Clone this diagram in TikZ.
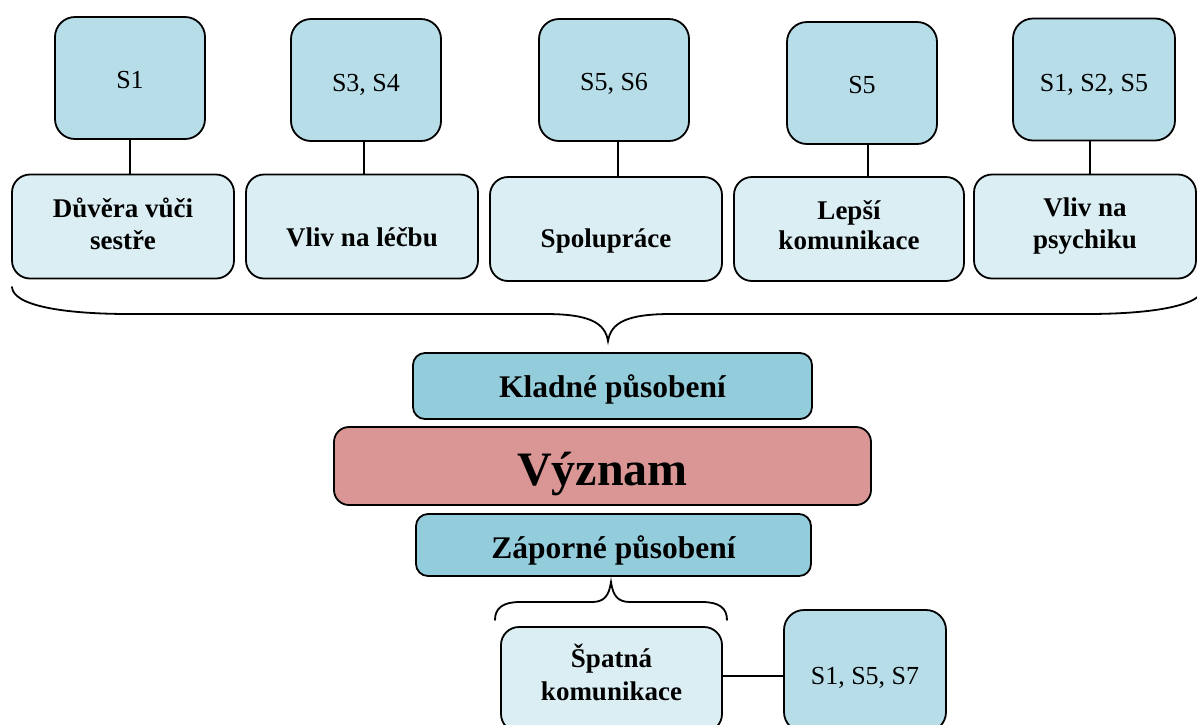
\documentclass[tikz,border=0pt]{standalone}
\usepackage{fontspec}
\setmainfont{Liberation Serif}
\definecolor{sfill}{HTML}{B7DDE8}
\definecolor{tfill}{HTML}{DBEEF3}
\definecolor{kfill}{HTML}{93CDDC}
\definecolor{vfill}{HTML}{D99694}
\begin{document}
\begin{tikzpicture}[x=1pt,y=-1pt,
  box/.style={draw=black, line width=1.8pt, inner sep=0pt},
  sbox/.style={box, fill=sfill, rounded corners=20pt,
    minimum width=150pt, minimum height=122pt},
  tbox/.style={box, fill=tfill, rounded corners=18pt, minimum height=104pt},
  band/.style={box, fill=kfill, rounded corners=12pt},
  stext/.style={inner sep=0pt, font=\fontsize{26}{31}\selectfont},
  ttext/.style={inner sep=0pt, align=center, font=\bfseries\fontsize{27}{32.5}\selectfont},
  btext/.style={inner sep=0pt, font=\bfseries\fontsize{31.5}{38}\selectfont},
  link/.style={draw=black, line width=1.4pt},
  brace/.style={draw=black, line width=1.8pt, line cap=round}
]
\useasboundingbox (0,0) rectangle (1197,724);
\clip (0,0) rectangle (1197,724);

% sources (top row)
\node[sbox] (s1)   at (130,78)   {};
\node[sbox] (s34)  at (366,80)   {};
\node[sbox] (s56)  at (614,80)   {};
\node[sbox] (s5)   at (862,83)   {};
\node[sbox, minimum width=162pt] (s125) at (1094,79.5) {};
\node[stext] (s1x)   at ([yshift=-2pt]s1.center)   {S1};
\node[stext] (s34x)  at ([yshift=-5pt]s34.center)  {S3, S4};
\node[stext] (s56x)  at ([yshift=-4pt]s56.center)  {S5, S6};
\node[stext] (s5x)   at ([yshift=-2pt]s5.center)   {S5};
\node[stext] (s125x) at ([yshift=-5pt]s125.center) {S1, S2, S5};

% positive effects
\node[tbox, minimum width=222pt] (t1) at (123,226.5)  {};
\node[tbox, minimum width=232pt] (t2) at (362,226.5)  {};
\node[tbox, minimum width=232pt] (t3) at (606,229)    {};
\node[tbox, minimum width=230pt] (t4) at (849,229)    {};
\node[tbox, minimum width=222pt] (t5) at (1085,226.5) {};
\node[ttext] (t1x) at ([yshift=2.5pt]t1.center)  {Důvěra vůči\\sestře};
\node[ttext] (t2x) at ([yshift=-11pt]t2.center)  {Vliv na léčbu};
\node[ttext] (t3x) at ([yshift=-12pt]t3.center)  {Spolupráce};
\node[ttext] (t4x) at ([yshift=4pt]t4.center)    {Lepší\\[-2pt]komunikace};
\node[ttext] (t5x) at ([yshift=0.5pt]t5.center)  {Vliv na\\psychiku};

% source links
\draw[link] (s1.south) -- (s1.south |- t1.north);
\draw[link] ([xshift=-2pt]s34.south) -- ([xshift=-2pt]s34.south |- t2.north);
\draw[link] ([xshift=4pt]s56.south) -- ([xshift=4pt]s56.south |- t3.north);
\draw[link] ([xshift=6pt]s5.south) -- ([xshift=6pt]s5.south |- t4.north);
\draw[link] ([xshift=-4pt]s125.south) -- ([xshift=-4pt]s125.south |- t5.north);

% central stack
\node[band, minimum width=399pt, minimum height=66pt] (kl) at (612.5,386) {};
\node[box, fill=vfill, rounded corners=15pt, minimum width=537pt, minimum height=78pt] (vy) at (602.5,466) {};
\node[band, minimum width=395pt, minimum height=62pt] (za) at (613.5,545) {};
\node[btext] (klx) at ([yshift=-3pt]kl.center) {Kladné působení};
\node[inner sep=0pt, font=\bfseries\fontsize{48}{56}\selectfont] (vyx) at ([yshift=-8pt]vy.center) {Význam};
\node[btext] (zax) at ([yshift=-5pt]za.center) {Záporné působení};

% negative effect
\node[tbox, minimum width=221pt, minimum height=105pt] (sp) at (611.5,679.5) {};
\node[sbox, minimum width=162pt] (s157) at (865,671) {};
\node[ttext] (spx) at ([yshift=7pt]sp.center) {Špatná\\komunikace};
\node[stext] (s157x) at ([yshift=-7pt]s157.center) {S1, S5, S7};
\draw[link] ([yshift=3.5pt]sp.east) -- ([yshift=3.5pt]sp.east -| s157.west);

% braces
\coordinate (topTip) at (608,341);
\draw[brace] (12,287) .. controls (13,305) and (60,314) .. (130,314)
  -- (545,314) .. controls (590,314) and (605,323) .. (topTip)
  .. controls (611,323) and (626,314) .. (671,314)
  -- (1086,314) .. controls (1156,314) and (1203,305) .. (1204,287);
\coordinate (botTip) at (611,582);
\draw[brace] (495,620) .. controls (495,608) and (503,602) .. (520,602)
  -- (592,602) .. controls (604,602) and (609,596) .. (botTip)
  .. controls (613,596) and (618,602) .. (630,602)
  -- (702,602) .. controls (719,602) and (727,608) .. (727,620);
\end{tikzpicture}
\end{document}
